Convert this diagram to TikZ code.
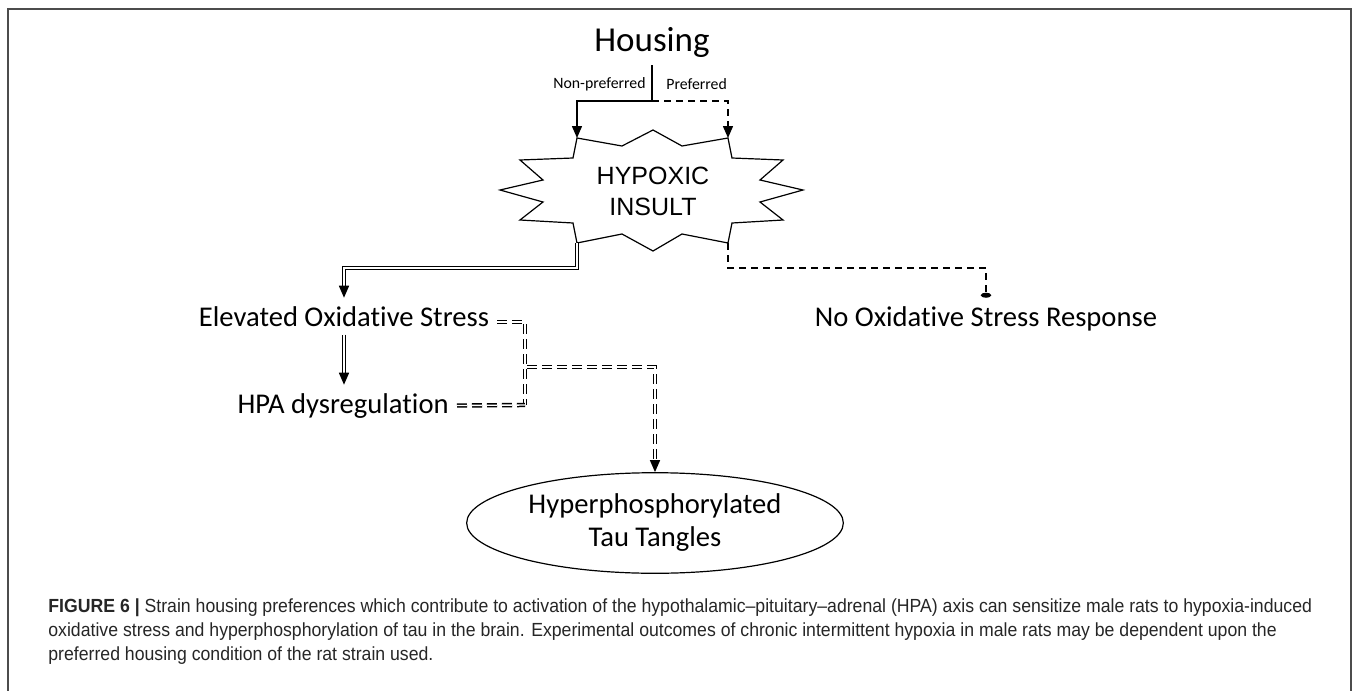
\documentclass[tikz,border=0pt]{standalone}
\usepackage{fontspec}
\setmainfont[Ligatures=NoCommon]{Carlito}
\newfontfamily\burstfont{Liberation Sans}
\newfontfamily\captionfont[FakeStretch=0.93]{Liberation Sans}
\usetikzlibrary{arrows.meta,shapes.geometric,positioning}

\begin{document}
\begin{tikzpicture}[x=0.5pt,y=-0.5pt,
    mainlabel/.style={font=\fontsize{14.3pt}{16.5pt}\selectfont, inner sep=4pt},
    branchlabel/.style={font=\fontsize{7.9pt}{9pt}\selectfont, inner sep=0pt},
    captionline/.style={font=\captionfont\fontsize{9.5pt}{12pt}\selectfont, text=black!85, inner sep=0pt, anchor=base west},
    headarrow/.style={-{Triangle[length=6pt,width=5pt]}},
    singleline/.style={line width=0.75pt},
    dashline/.style={singleline, dash pattern=on 3.5pt off 2.5pt},
    twinline/.style={double, double distance=0.7pt, line width=0.75pt},
    twindash/.style={twinline, dash pattern=on 5pt off 2.5pt}]
  \useasboundingbox (0,0) rectangle (1357,691);
  \draw[black!70, line width=1pt] (8,691) -- (8,9) -- (1351,9) -- (1351,691);

  % nodes
  \node[mainlabel, font=\fontsize{17.5pt}{20pt}\selectfont, anchor=base] (housing) at (652,51) {Housing};
  \coordinate (split) at (652,101);
  \node[branchlabel, anchor=east] (nonpref) at (646,84) {Non-preferred};
  \node[branchlabel, anchor=west] (pref) at (666,84) {Preferred};

  % hypoxic insult burst
  \coordinate (burst-nw) at (577,138);
  \coordinate (burst-ne) at (728,138);
  \coordinate (burst-se) at (728,243);
  \coordinate (burst-sw) at (577,243);
  \draw[line width=0.6pt, fill=white] (burst-nw) -- (622,146) -- (653,130) -- (682,146) -- (burst-ne)
    -- (732,158) -- (783,160) -- (760,180) -- (803,190) -- (760,202) -- (783,220) -- (732,223)
    -- (burst-se) -- (682,234) -- (653,251) -- (622,234) -- (burst-sw)
    -- (573,223) -- (520,220) -- (543,202) -- (500,190) -- (543,180) -- (520,160) -- (573,158) -- cycle;
  \node[align=center, font=\burstfont\fontsize{12.5pt}{15.5pt}\selectfont] (insult) at (653,191) {HYPOXIC\\INSULT};

  \node[mainlabel, anchor=base] (oxstress) at (344,326) {Elevated Oxidative Stress};
  \node[mainlabel, anchor=base east] (hpa) at (457,413) {HPA dysregulation};
  \node[mainlabel, anchor=base] (noresp) at (986,326) {No Oxidative Stress Response};
  \node[draw, ellipse, line width=0.6pt, minimum width=183.5pt, minimum height=48.5pt, align=center,
    font=\fontsize{14.3pt}{16.5pt}\selectfont] (tau) at (655,523) {Hyperphosphorylated\\Tau Tangles};

  \coordinate (kneeL) at (577,268);
  \coordinate (kneeR) at (728,268);
  \coordinate (joinTop) at (525,322);
  \coordinate (joinLow) at (525,405);
  \coordinate (joinMid) at (527,367);

  % connectors
  \draw[singleline] (housing) -- (split);
  \draw[singleline, headarrow] (split) -| (burst-nw);
  \draw[dashline, headarrow] (split) -| (burst-ne);
  \draw[twinline, headarrow] (burst-sw) -- (kneeL) -| (oxstress);
  \draw[twinline, headarrow] (oxstress.south) -- (oxstress.south |- hpa.north);
  \draw[dashline, -{Ellipse[length=2.5pt,width=5pt]}] (burst-se) -- (kneeR) -| (noresp);
  \draw[twindash] (oxstress.east |- joinTop) -- (joinTop) -- (joinLow);
  \draw[twindash] (hpa.east) -- (joinLow);
  \draw[twindash, headarrow] (joinMid) -| (tau);

  % caption
  \node[captionline] (cap1) at (48,612) {\textbf{FIGURE 6 |} Strain housing preferences which contribute to activation of the hypothalamic–pituitary–adrenal (HPA) axis can sensitize male rats to hypoxia-induced};
  \node[captionline] (cap2) at (48,636) {oxidative stress and hyperphosphorylation of tau in the brain. Experimental outcomes of chronic intermittent hypoxia in male rats may be dependent upon the};
  \node[captionline] (cap3) at (48,660) {preferred housing condition of the rat strain used.};
\end{tikzpicture}
\end{document}
